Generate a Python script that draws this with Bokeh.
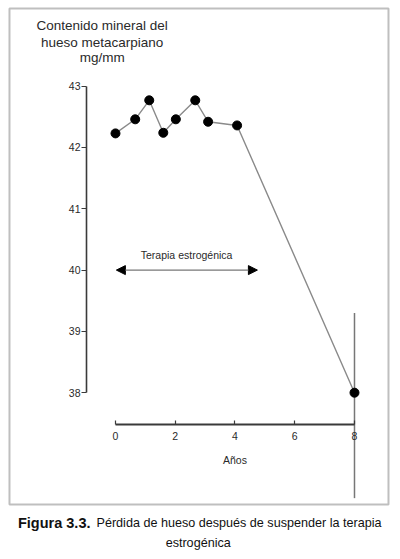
from bokeh.plotting import figure
from bokeh.models import Range1d, FixedTicker, Label, Arrow, NormalHead, BoxAnnotation
from bokeh.embed import file_html
from bokeh.resources import INLINE

# ---- data ----
years = [0, 0.66, 1.13, 1.6, 2.02, 2.67, 3.1, 4.07, 8]
mineral = [42.23, 42.46, 42.77, 42.24, 42.46, 42.77, 42.42, 42.36, 38.0]
y_ticks = [38, 39, 40, 41, 42, 43]
x_ticks = [0, 2, 4, 6, 8]
therapy_start = 0.03
therapy_end = 4.75
therapy_level = 40.0
err_year = [8]
err_high = [39.3]
err_low = [36.28]

FONT = "Liberation Sans"
TXT = "#2a2a2a"
AX = "#3a3a3a"

p = figure(width=400, height=559, output_backend="svg", toolbar_location=None,
           x_range=Range1d(-3.849, 9.540), y_range=Range1d(35.279, 44.398),
           min_border=0, min_border_left=0, min_border_right=0,
           min_border_top=0, min_border_bottom=0,
           background_fill_color="white", border_fill_color="white")
p.title.visible = False
p.outline_line_color = None
p.xgrid.visible = False
p.ygrid.visible = False

# outer frame of the figure panel
p.add_layout(BoxAnnotation(left=-3.548, right=9.138, top=44.268, bottom=36.176,
                           fill_color=None, line_color="#2a2a2a", line_width=2))

# x axis
xa = p.xaxis[0]
xa.fixed_location = 37.48
xa.bounds = (0, 8)
xa.ticker = FixedTicker(ticks=x_ticks)
xa.major_tick_in = 4
xa.major_tick_out = 0
xa.minor_tick_line_color = None
xa.axis_line_width = 2
xa.axis_line_color = AX
xa.major_tick_line_color = AX
xa.major_tick_line_width = 1.2
xa.major_label_text_font = FONT
xa.major_label_text_font_size = "10.5px"
xa.major_label_text_color = TXT
xa.major_label_standoff = 7
xa.axis_label = "Años"
xa.axis_label_text_font = FONT
xa.axis_label_text_font_style = "normal"
xa.axis_label_text_font_size = "10.5px"
xa.axis_label_text_color = TXT
xa.axis_label_standoff = 11

# y axis
ya = p.yaxis[0]
ya.fixed_location = -0.97
ya.bounds = (38, 43)
ya.ticker = FixedTicker(ticks=y_ticks)
ya.major_tick_in = 0
ya.major_tick_out = 5
ya.minor_tick_line_color = None
ya.axis_line_width = 1.6
ya.axis_line_color = AX
ya.major_tick_line_color = AX
ya.major_tick_line_width = 1.2
ya.major_label_text_font = FONT
ya.major_label_text_font_size = "10.5px"
ya.major_label_text_color = TXT
ya.major_label_standoff = 1

# error bar at year 8
p.segment(x0=err_year, y0=err_high, x1=err_year, y1=err_low,
          line_color="#777777", line_width=1.5)

# data
p.line(years, mineral, line_color="#8a8a8a", line_width=1.4)
p.scatter(years, mineral, size=9, fill_color="black", line_color="black")

# therapy arrow
p.add_layout(Arrow(start=NormalHead(size=9, fill_color="black", line_color="black"),
                   end=NormalHead(size=9, fill_color="black", line_color="black"),
                   x_start=therapy_start, y_start=therapy_level,
                   x_end=therapy_end, y_end=therapy_level,
                   line_color="#777777", line_width=1.2))
p.add_layout(Label(x=2.38, y=40.24, text="Terapia estrogénica", text_align="center",
                   text_baseline="middle", text_font=FONT, text_font_size="10.5px",
                   text_color=TXT))

# y title
for txt, yy in [("Contenido mineral del", 43.99), ("hueso metacarpiano", 43.718), ("mg/mm", 43.463)]:
    p.add_layout(Label(x=-0.445, y=yy, text=txt, text_align="center", text_baseline="middle",
                       text_font=FONT, text_font_size="13.5px", text_color=TXT))

# caption
p.add_layout(Label(x=-0.837, y=35.882, text="Figura 3.3.", text_align="right",
                   text_baseline="middle", text_font=FONT, text_font_style="bold",
                   text_font_size="14.5px", text_color="#111111"))
p.add_layout(Label(x=-0.636, y=35.882, text="Pérdida de hueso después de suspender la terapia",
                   text_align="left", text_baseline="middle", text_font=FONT,
                   text_font_size="12.6px", text_color="#111111"))
p.add_layout(Label(x=2.768, y=35.556, text="estrogénica", text_align="center",
                   text_baseline="middle", text_font=FONT,
                   text_font_size="12.6px", text_color="#111111"))

open("out.html", "w").write(file_html(p, INLINE))
